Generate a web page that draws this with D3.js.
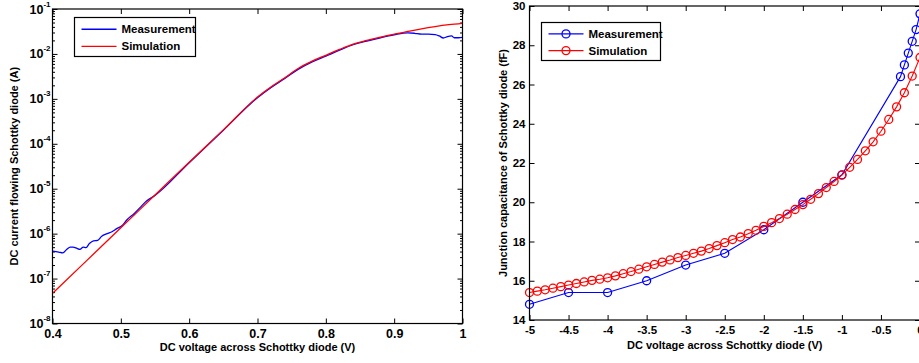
<!DOCTYPE html>
<html>
<head>
<meta charset="utf-8">
<script src="https://cdn.jsdelivr.net/npm/d3@7"></script>
<style>
  body { margin: 0; background: #fff; }
  svg { display: block; font-family: "Liberation Sans", Arial, sans-serif; font-weight: bold; }
</style>
</head>
<body>
<script>
// Left plot: DC current (A) vs voltage (V), log scale
const ivSimV = [0.40, 0.45, 0.50, 0.55, 0.60, 0.65, 0.70, 0.72, 0.74, 0.76, 0.78, 0.80, 0.82, 0.84, 0.86, 0.88, 0.90, 0.92, 0.94, 0.96, 0.98, 1.00];
const ivSimI = [4.68e-8, 2.51e-7, 1.35e-6, 7.24e-6, 3.89e-5, 2.04e-4, 1.10e-3, 1.86e-3, 2.95e-3, 4.79e-3, 6.92e-3, 9.33e-3, 1.26e-2, 1.66e-2, 2.00e-2, 2.37e-2, 2.75e-2, 3.16e-2, 3.63e-2, 4.07e-2, 4.47e-2, 4.79e-2];

const ivMeasV = [0.400, 0.409, 0.415, 0.421, 0.426, 0.430, 0.436, 0.440, 0.445, 0.449, 0.454, 0.460, 0.466, 0.472, 0.480, 0.487, 0.494, 0.502, 0.509, 0.519, 0.528, 0.538, 0.55, 0.60, 0.65, 0.70, 0.72, 0.74, 0.76, 0.78, 0.80, 0.82, 0.84, 0.86, 0.88, 0.90, 0.92, 0.93, 0.94, 0.95, 0.96, 0.966, 0.972, 0.978, 0.984, 0.988, 0.994, 1.00];
const ivMeasI = [4.07e-7, 3.89e-7, 3.72e-7, 4.47e-7, 5.01e-7, 5.01e-7, 4.68e-7, 4.47e-7, 5.01e-7, 4.90e-7, 6.03e-7, 6.92e-7, 7.08e-7, 8.71e-7, 1.00e-6, 1.10e-6, 1.29e-6, 1.51e-6, 2.04e-6, 2.75e-6, 3.80e-6, 5.37e-6, 7.10e-6, 3.80e-5, 2.00e-4, 1.06e-3, 1.79e-3, 2.84e-3, 4.60e-3, 6.65e-3, 8.95e-3, 1.21e-2, 1.60e-2, 1.93e-2, 2.29e-2, 2.66e-2, 2.95e-2, 2.88e-2, 2.75e-2, 2.75e-2, 2.69e-2, 2.51e-2, 2.26e-2, 2.43e-2, 2.51e-2, 2.29e-2, 2.29e-2, 2.34e-2];

const ivXTicks = [0.4, 0.5, 0.6, 0.7, 0.8, 0.9, 1];
const ivXTickLabels = ["0.4", "0.5", "0.6", "0.7", "0.8", "0.9", "1"];
const ivYTicks = [1e-8, 1e-7, 1e-6, 1e-5, 1e-4, 1e-3, 1e-2, 1e-1];
const ivYExponents = ["-8", "-7", "-6", "-5", "-4", "-3", "-2", "-1"];

// Right plot: junction capacitance (fF) vs voltage (V)
const cvSimV = [-5.0, -4.9, -4.8, -4.7, -4.6, -4.5, -4.4, -4.3, -4.2, -4.1, -4.0, -3.9, -3.8, -3.7, -3.6, -3.5, -3.4, -3.3, -3.2, -3.1, -3.0, -2.9, -2.8, -2.7, -2.6, -2.5, -2.4, -2.3, -2.2, -2.1, -2.0, -1.9, -1.8, -1.7, -1.6, -1.5, -1.4, -1.3, -1.2, -1.1, -1.0, -0.9, -0.8, -0.7, -0.6, -0.5, -0.4, -0.3, -0.2, -0.1, 0.0];
const cvSimC = [15.40, 15.47, 15.54, 15.62, 15.70, 15.78, 15.86, 15.94, 16.02, 16.08, 16.15, 16.25, 16.36, 16.47, 16.59, 16.71, 16.83, 16.95, 17.06, 17.18, 17.29, 17.40, 17.51, 17.64, 17.79, 17.94, 18.10, 18.23, 18.40, 18.57, 18.77, 18.96, 19.17, 19.39, 19.63, 19.88, 20.15, 20.44, 20.75, 21.06, 21.38, 21.78, 22.18, 22.62, 23.08, 23.62, 24.22, 24.86, 25.58, 26.43, 27.38];

const cvMeasV = [-5, -4.5, -4, -3.5, -3, -2.5, -2, -1.5, -1, -0.25, -0.2, -0.15, -0.1, -0.05, 0];
const cvMeasC = [14.8, 15.4, 15.4, 16.0, 16.8, 17.4, 18.6, 20.0, 21.4, 26.4, 27.0, 27.6, 28.2, 28.8, 29.6];

const cvXTicks = [-5, -4.5, -4, -3.5, -3, -2.5, -2, -1.5, -1, -0.5, 0];
const cvYTicks = [14, 16, 18, 20, 22, 24, 26, 28, 30];

const legendNames = ["Measurement", "Simulation"];
const blue = "#0000ff";
const red = "#ff0000";

/* CONSTANTS */
const width = 919;
const height = 363;
const svg = d3.select("body").append("svg")
  .attr("width", width)
  .attr("height", height);

const left = {x0: 52.5, x1: 462.5, y0: 9, y1: 323.5};
const right = {x0: 529.5, x1: 920, y0: 6, y1: 320};

const xL = d3.scaleLinear().domain([0.4, 1]).range([left.x0, left.x1]);
const yL = d3.scaleLog().domain([1e-8, 1e-1]).range([left.y1, left.y0]);
const xR = d3.scaleLinear().domain([-5, 0]).range([right.x0, right.x1]);
const yR = d3.scaleLinear().domain([14, 30]).range([right.y1, right.y0]);

// minor ticks on the log axis: 2..9 in each decade
const ivMinor = [];
ivYTicks.slice(0, -1).forEach((d) => {
  for (let k = 2; k <= 9; k++) ivMinor.push(d * k);
});

/* FUNCTIONS */
function styleAxis(g) {
  g.select(".domain").remove();
  g.selectAll("line").attr("stroke", "#000").attr("stroke-width", 1);
  g.selectAll("text").attr("fill", "#000");
}

function drawFrame(p) {
  svg.append("rect")
    .attr("x", p.x0).attr("y", p.y0)
    .attr("width", p.x1 - p.x0).attr("height", p.y1 - p.y0)
    .attr("fill", "none").attr("stroke", "#000").attr("stroke-width", 1.2);
}

function drawLegend(x, y, w, h, markers, fontSize) {
  const g = svg.append("g").attr("transform", `translate(${x},${y})`);
  g.append("rect").attr("width", w).attr("height", h)
    .attr("fill", "#fff").attr("stroke", "#000").attr("stroke-width", 1.2);
  [blue, red].forEach((c, i) => {
    const ly = h * (0.3 + 0.44 * i);
    g.append("line").attr("x1", 7).attr("x2", 42).attr("y1", ly).attr("y2", ly)
      .attr("stroke", c).attr("stroke-width", 1.4);
    if (markers) {
      g.append("circle").attr("cx", 24.5).attr("cy", ly).attr("r", 4)
        .attr("fill", "none").attr("stroke", c).attr("stroke-width", 1.3);
    }
    g.append("text").attr("x", 47).attr("y", ly + 4)
      .attr("font-size", fontSize).text(legendNames[i]);
  });
}

/* LEFT PLOT */
svg.append("g")
  .attr("transform", `translate(0,${left.y1})`)
  .call(d3.axisBottom(xL).tickValues(ivXTicks).tickSizeInner(-5).tickSizeOuter(0).tickPadding(6)
    .tickFormat((d, i) => ivXTickLabels[i]))
  .call(styleAxis)
  .selectAll("text").attr("font-size", 12.5);

svg.append("g")
  .attr("transform", `translate(0,${left.y0})`)
  .call(d3.axisTop(xL).tickValues(ivXTicks).tickSizeInner(-5).tickSizeOuter(0).tickFormat(""))
  .call(styleAxis);

[[left.x0, d3.axisLeft], [left.x1, d3.axisRight]].forEach(([x, ax]) => {
  svg.append("g").attr("transform", `translate(${x},0)`)
    .call(ax(yL).tickValues(ivYTicks).tickSizeInner(-5).tickSizeOuter(0).tickFormat(""))
    .call(styleAxis);
  svg.append("g").attr("transform", `translate(${x},0)`)
    .call(ax(yL).tickValues(ivMinor).tickSizeInner(-2.5).tickSizeOuter(0).tickFormat(""))
    .call(styleAxis);
});

// y tick labels as 10 with superscript exponent
const powLabels = svg.append("g").selectAll("text")
  .data(ivYTicks)
  .enter()
  .append("text")
  .attr("x", left.x0 - 2)
  .attr("y", (d) => yL(d) + 4.5)
  .attr("text-anchor", "end")
  .attr("font-size", 12.5);
powLabels.append("tspan").text("10");
powLabels.append("tspan").attr("dy", -7).attr("font-size", 8).text((d, i) => ivYExponents[i]);

const lineL = d3.line().x((d) => xL(d[0])).y((d) => yL(d[1])).curve(d3.curveMonotoneX);

svg.append("path")
  .datum(ivMeasV.map((v, i) => [v, ivMeasI[i]]))
  .attr("fill", "none").attr("stroke", blue).attr("stroke-width", 1.3)
  .attr("d", lineL);

svg.append("path")
  .datum(ivSimV.map((v, i) => [v, ivSimI[i]]))
  .attr("fill", "none").attr("stroke", red).attr("stroke-width", 1.3)
  .attr("d", lineL);

drawFrame(left);
drawLegend(74.5, 17.5, 121, 39, false, 11.5);

svg.append("text")
  .attr("x", (left.x0 + left.x1) / 2).attr("y", 351)
  .attr("text-anchor", "middle").attr("font-size", 11)
  .text("DC voltage across Schottky diode (V)");

svg.append("text")
  .attr("transform", `translate(17.5,${(left.y0 + left.y1) / 2}) rotate(-90)`)
  .attr("text-anchor", "middle").attr("font-size", 11)
  .text("DC current flowing Schottky diode (A)");

/* RIGHT PLOT */
svg.append("g")
  .attr("transform", `translate(0,${right.y1})`)
  .call(d3.axisBottom(xR).tickValues(cvXTicks).tickSizeInner(-5).tickSizeOuter(0).tickPadding(6)
    .tickFormat((d) => d3.format("")(d).replace("−", "-")))
  .call(styleAxis)
  .selectAll("text").attr("font-size", 11.5);

svg.append("g")
  .attr("transform", `translate(0,${right.y0})`)
  .call(d3.axisTop(xR).tickValues(cvXTicks).tickSizeInner(-5).tickSizeOuter(0).tickFormat(""))
  .call(styleAxis);

svg.append("g")
  .attr("transform", `translate(${right.x0},0)`)
  .call(d3.axisLeft(yR).tickValues(cvYTicks).tickSizeInner(-5).tickSizeOuter(0).tickPadding(4))
  .call(styleAxis)
  .selectAll("text").attr("font-size", 11.5);

svg.append("g")
  .attr("transform", `translate(${right.x1},0)`)
  .call(d3.axisRight(yR).tickValues(cvYTicks).tickSizeInner(-5).tickSizeOuter(0).tickFormat(""))
  .call(styleAxis);

const lineR = d3.line().x((d) => xR(d[0])).y((d) => yR(d[1]));

[[cvMeasV, cvMeasC, blue], [cvSimV, cvSimC, red]].forEach(([vs, cs, c]) => {
  const pts = vs.map((v, i) => [v, cs[i]]);
  svg.append("path")
    .datum(pts)
    .attr("fill", "none").attr("stroke", c).attr("stroke-width", 1.1)
    .attr("d", lineR);
  svg.append("g").selectAll("circle")
    .data(pts)
    .enter()
    .append("circle")
    .attr("cx", (d) => xR(d[0]))
    .attr("cy", (d) => yR(d[1]))
    .attr("r", 4)
    .attr("fill", "none").attr("stroke", c).attr("stroke-width", 1.3);
});

drawFrame(right);
drawLegend(541.5, 22.5, 119, 38, true, 11.5);

svg.append("text")
  .attr("x", (right.x0 + right.x1) / 2).attr("y", 349)
  .attr("text-anchor", "middle").attr("font-size", 11)
  .text("DC voltage across Schottky diode (V)");

svg.append("text")
  .attr("transform", `translate(507,${(right.y0 + right.y1) / 2}) rotate(-90)`)
  .attr("text-anchor", "middle").attr("font-size", 11)
  .text("Junction capacitance of Schottky diode (fF)");
</script>
</body>
</html>
